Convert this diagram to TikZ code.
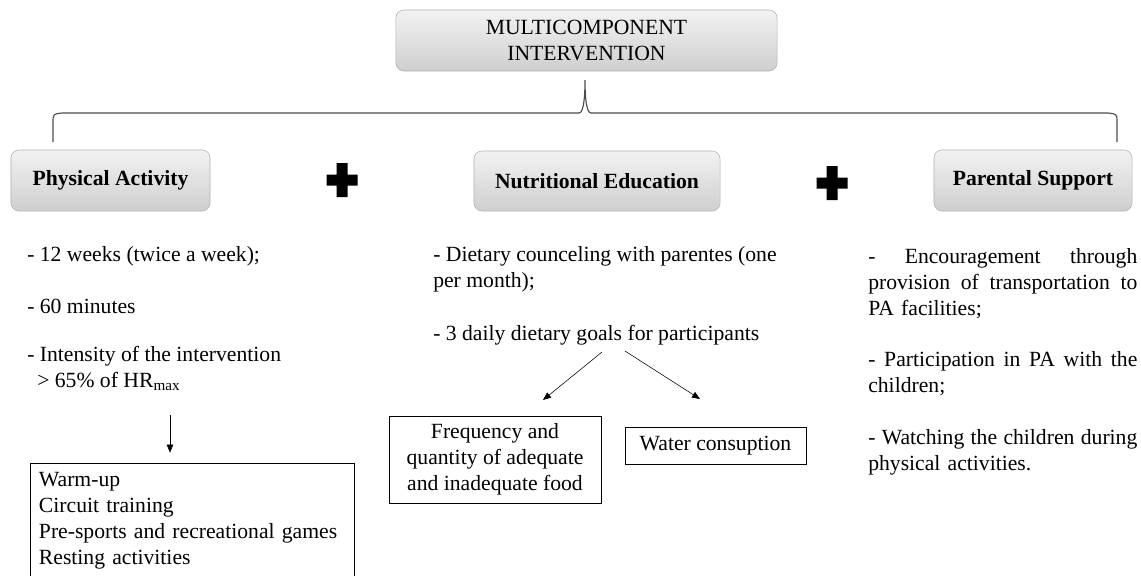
\documentclass[tikz,border=0pt]{standalone}
\usepackage{fontspec}
\setmainfont{Liberation Serif}
\usetikzlibrary{positioning,arrows.meta,calc}
\newcommand{\diagfont}{\fontsize{15.4}{18.5}\selectfont}
\newcommand{\fullline}[1]{\makebox[6.725cm][s]{#1}}
\tikzset{
  headbox/.style={draw=gray!60, rounded corners=0.2cm, top color=gray!10, bottom color=gray!38, align=center, inner sep=0pt},
  listbox/.style={draw, thin, align=left, inner sep=0pt},
  goalbox/.style={draw, thin, align=center, inner sep=0pt},
  plaintext/.style={inner sep=0pt, align=left, anchor=west},
  flowarrow/.style={-{Triangle[length=2mm, width=1.6mm]}, thin},
  bracepath/.style={draw=black!70, line width=0.8pt}
}

\begin{document}
\begin{tikzpicture}[x=0.025cm, y=-0.025cm, every node/.style={font=\diagfont}]
  \clip (0,0) rectangle (1141,575);
  \fill[white] (0,0) rectangle (1141,575);

  % headings
  \node[headbox, minimum width=9.525cm, minimum height=1.525cm] (multi) at (586.5,40.5) {MULTICOMPONENT\\INTERVENTION};
  \node[headbox, font=\diagfont\bfseries, minimum width=4.975cm, minimum height=1.525cm] (physical) at (110.5,180.5) {Physical Activity};
  \node[headbox, font=\diagfont\bfseries, minimum width=6.15cm, minimum height=1.5cm] (nutrition) at (597,181) {Nutritional Education};
  \node[headbox, font=\diagfont\bfseries, minimum width=4.95cm, minimum height=1.525cm] (parental) at (1033,180.5) {Parental Support};

  % brace under the main box
  \coordinate (braceL) at (53,142);
  \coordinate (braceR) at (1117,142);
  \coordinate (braceTip) at (585,80);
  \draw[bracepath] (braceL) -- (53,123) .. controls (53,114) .. (62,113) -- (579,113)
    .. controls (584,113) and (585,95) .. (braceTip)
    .. controls (585,95) and (586,113) .. (591,113) -- (1108,113)
    .. controls (1117,114) .. (1117,123) -- (braceR);

  % plus signs
  \foreach \cx/\cy in {342/180, 832/183}
    \fill[black, shift={(\cx,\cy)}] (-15.5,-5.5) rectangle (15.5,5.5) (-5.5,-17) rectangle (5.5,17);

  % physical activity
  \node[plaintext] (weeks) at (27,256) {- 12 weeks (twice a week);};
  \node[plaintext] (minutes) at (27,306) {- 60 minutes};
  \node[plaintext] (intensity) at (27,368) {- Intensity of the intervention\\\hspace*{0.25cm}> 65\% of HR\textsubscript{max}};
  \node[listbox, minimum width=8.1cm, minimum height=2.9cm, text width=7.65cm] (activities) at (192,521)
    {Warm-up\\Circuit training\\Pre-sports and recreational games\\Resting activities};
  \coordinate (actArrow) at (170,415);
  \draw[flowarrow, shorten >=0.25cm] (actArrow) -- (actArrow |- activities.north);

  % nutritional education
  \node[plaintext] (counsel) at (433,269) {- Dietary counceling with parentes (one\\per month);};
  \node[plaintext] (goals) at (433,335) {- 3 daily dietary goals for participants};
  \node[goalbox, minimum width=5.3cm, minimum height=2.175cm] (food) at (495,459.5) {Frequency and\\quantity of adequate\\and inadequate food};
  \node[goalbox, minimum width=4.525cm, minimum height=0.925cm] (water) at (715.5,445.5) {Water consuption};
  \coordinate (goalsL) at (602,352);
  \coordinate (goalsR) at (625,351);
  \coordinate (foodTip) at (543,400);
  \coordinate (waterTip) at (700,399);
  \draw[flowarrow] (goalsL) -- (foodTip);
  \draw[flowarrow] (goalsR) -- (waterTip);

  % parental support
  \node[plaintext, text width=6.725cm] (transport) at (868,284)
    {\fullline{-\hfill Encouragement\hfill through}\\\fullline{provision\hfill of\hfill transportation\hfill to}\\PA facilities;};
  \node[plaintext, text width=6.725cm] (participation) at (868,374)
    {\fullline{-\hfill Participation\hfill in\hfill PA\hfill with\hfill the}\\children;};
  \node[plaintext, text width=6.725cm] (watching) at (868,452)
    {\fullline{-\hfill Watching\hfill the\hfill children\hfill during}\\physical activities.};
\end{tikzpicture}
\end{document}
